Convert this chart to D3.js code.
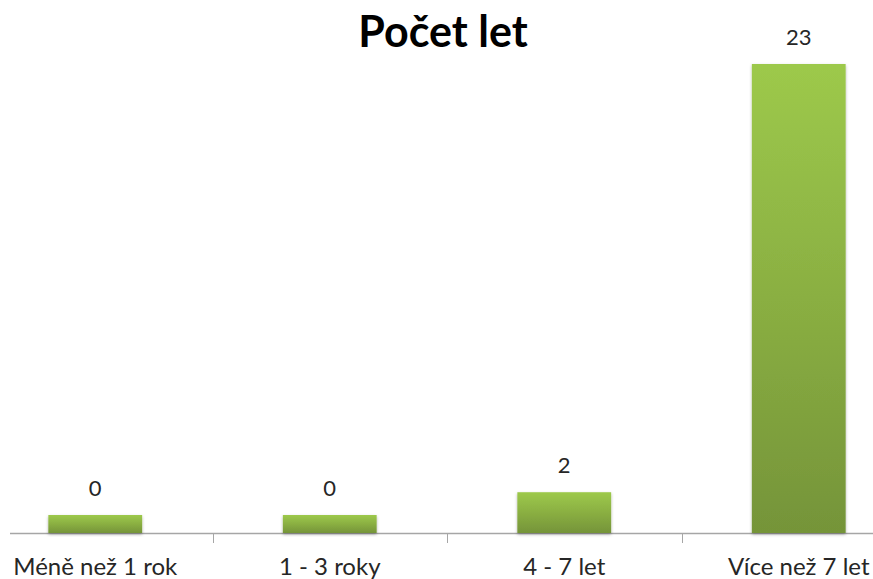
<!DOCTYPE html>
<html><head><meta charset="utf-8">
<script src="https://cdn.jsdelivr.net/npm/d3@7/dist/d3.min.js"></script>
<style>
html,body{margin:0;padding:0;background:#fff;}
svg{display:block;font-family:Lato,"Open Sans",sans-serif;}
</style></head><body>
<script>
const title = "Počet let";
const categories = ["Méně než 1 rok", "1 - 3 roky", "4 - 7 let", "Více než 7 let"];
const values = [0, 0, 2, 23];
const yMax = 23;

const W = 873, H = 579;
const baseY = 533, topY = 64;
const svg = d3.select("body").append("svg").attr("width", W).attr("height", H);

const defs = svg.append("defs");
const grad = defs.append("linearGradient").attr("id","g").attr("x1",0).attr("y1",0).attr("x2",0).attr("y2",1);
grad.append("stop").attr("offset","0%").attr("stop-color","#9dc94b");
grad.append("stop").attr("offset","50%").attr("stop-color","#8aaf42");
grad.append("stop").attr("offset","100%").attr("stop-color","#759439");
const f = defs.append("filter").attr("id","sh").attr("x","-20%").attr("y","-20%").attr("width","140%").attr("height","140%");
f.append("feDropShadow").attr("dx",0).attr("dy",1.5).attr("stdDeviation",1.5).attr("flood-color","#000").attr("flood-opacity",0.3);

const x = d3.scaleBand().domain(categories).range([-22, 916]).paddingInner(0.6).paddingOuter(0.3);
const band = d3.scaleBand().domain(categories).range([-22, 916]);
const y = d3.scaleLinear().domain([0, yMax]).range([baseY, topY]);
const minStub = 18;

// axis line
svg.append("line").attr("x1",10).attr("x2",W).attr("y1",baseY+0.5).attr("y2",baseY+0.5)
  .attr("stroke","#a6a6a6").attr("stroke-width",1.5);
// ticks at category boundaries
const bounds = categories.slice(1).map(c => band(c));
svg.selectAll(".tk").data(bounds).join("line")
  .attr("x1",d=>Math.round(d)+0.5).attr("x2",d=>Math.round(d)+0.5)
  .attr("y1",baseY).attr("y2",baseY+10).attr("stroke","#a6a6a6").attr("stroke-width",1);

const barTop = v => Math.min(y(v), baseY - minStub);

svg.selectAll(".bar").data(values).join("rect")
  .attr("x",(d,i)=>x(categories[i]))
  .attr("width",x.bandwidth())
  .attr("y",d=>barTop(d))
  .attr("height",d=>baseY-barTop(d))
  .attr("fill","url(#g)")
  .attr("filter","url(#sh)");

svg.selectAll(".vl").data(values).join("text")
  .attr("x",(d,i)=>band(categories[i])+band.bandwidth()/2)
  .attr("y",d=> barTop(d)-19)
  .attr("text-anchor","middle").attr("font-size",22).attr("fill","#262626")
  .text(d=>d);

svg.selectAll(".cl").data(categories).join("text")
  .attr("x",d=>band(d)+band.bandwidth()/2)
  .attr("y",575)
  .attr("text-anchor","middle").attr("font-size",24).attr("fill","#262626")
  .text(d=>d);

svg.append("text").attr("x",443).attr("y",47).attr("text-anchor","middle")
  .attr("font-size",43).attr("font-weight","bold").attr("fill","#000").text(title);
</script>
</body></html>
